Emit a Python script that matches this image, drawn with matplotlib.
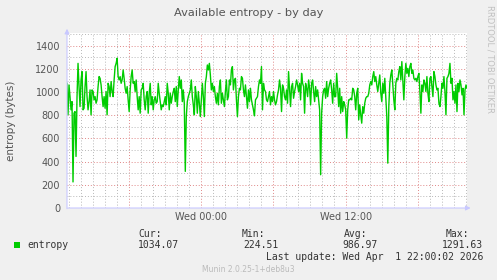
import numpy as np
import matplotlib
matplotlib.use("Agg")
import matplotlib.pyplot as plt
from matplotlib.ticker import MultipleLocator, FixedLocator

# ---------------- data ----------------
title = "Available entropy - by day"
ylabel = "entropy (bytes)"
series_name = "entropy"
t_start, t_end = -11.16, 22.08          # hours relative to Wed 00:00
xtick_pos = [0, 12]
xtick_labels = ["Wed 00:00", "Wed 12:00"]
ytick_vals = [0, 200, 400, 600, 800, 1000, 1200, 1400]

entropy_part1 = [
    1076, 804, 1062, 961, 847, 918, 225, 818, 832, 445, 961, 1248, 1048, 875, 1105, 1177,
    847, 861, 1048, 1177, 961, 847, 918, 1019, 804, 1019, 1005, 933, 961, 904, 933, 1048,
    1134, 1119, 1062, 961, 875, 961, 861, 1005, 804, 1076, 1048, 961, 1091, 1005, 961, 1105,
    1220, 1248, 1292, 1134, 1105, 1134, 1076, 1105, 1191, 1119, 1033, 990, 1048, 933, 832, 1019,
    1134, 1191, 1076, 1091, 1005, 1105, 961, 847, 961, 818, 1019, 1033, 1076, 933, 847, 961,
    1005, 818, 990, 1076, 890, 961, 847, 933, 961, 904, 918, 1076, 990, 918, 847, 890,
    875, 918, 961, 890, 1076, 990, 847, 990, 904, 961, 1005, 1033, 918, 1048, 875, 1019,
    1134, 1033, 1105, 918, 1019, 904, 316, 789, 918, 961, 990, 1019, 1105, 961, 890, 804,
    1048, 961, 818, 1005, 904, 789, 933, 1076, 961, 789, 1076, 1134, 1234, 1191, 1248, 1148,
    1019, 1076, 1005, 1048, 961, 904, 990, 890, 1048, 1105, 904, 990, 933, 875, 1005, 1105,
    933, 961, 1105, 1062, 1191, 1220, 1019, 1105, 1119, 933, 789, 961, 1033, 1019, 1134, 1119,
    1019, 961, 1062, 961, 861, 1019, 918,
]
entropy_part2 = [
    1033, 933, 890, 847, 795, 933, 947, 961, 1048, 1105, 1076, 1220, 847, 1076, 1019, 1005,
    933, 918, 961, 1005, 890, 961, 918, 1005, 933, 890, 918, 976, 1019, 1105, 1033, 832,
    1062, 1033, 961, 933, 1019, 904, 1177, 1033, 875, 1048, 1076, 947, 1005, 1048, 1105, 1062,
    1005, 1076, 933, 1162, 1076, 1048, 818, 1076, 1033, 961, 1105, 1033, 890, 1076, 1105, 1005,
    918, 1048, 961, 1019, 933, 847, 287, 818, 961, 1019, 1033, 947, 1091, 961, 1033, 1076,
    1105, 1019, 904, 1076, 961, 961, 1162, 1033, 875, 1033, 818, 961, 832, 918, 890, 847,
    603, 847, 933, 933, 947, 933, 1033, 1019, 961, 847, 990, 1033, 761, 890, 804, 732,
    875, 818, 904, 947, 961, 961, 990, 1062, 1091, 1062, 1134, 1177, 1091, 1134, 1062, 1005,
    1076, 1148, 990, 918, 1076, 990, 1119, 961, 789, 387, 875, 1076, 1148, 1191, 1062, 933,
    847, 1076, 1119, 1105, 1177, 1220, 1105, 1263, 1105, 933, 1134, 1248, 1162, 1205, 1134, 1220,
    1248, 1162, 1191, 1119, 1105, 1119, 1091, 1134, 1162, 1005, 818, 1062, 1005, 1105, 1076, 1005,
    1134, 990, 918, 1119, 1134, 1048, 961, 1177, 1134, 1062, 1019, 1033, 904, 875, 961, 1076,
    1033, 1134, 1005, 804, 1119, 1134, 1162, 1248, 1076, 1119, 933, 1005, 904, 1062, 832, 1076,
    1005, 1105, 1062, 976, 1033, 804, 1019, 1062, 1034,
]
entropy = np.array(entropy_part1 + entropy_part2, dtype=float)

stat_labels = ["Cur:", "Min:", "Avg:", "Max:"]
stat_values = ["1034.07", "224.51", "986.97", "1291.63"]
last_update = "Last update: Wed Apr  1 22:00:02 2026"
footer = "Munin 2.0.25-1+deb8u3"
side_text = "RRDTOOL / TOBI OETIKER"

# ---------------- figure ----------------
W, H = 497, 280
BG = "#F0F0F0"
fig = plt.figure(figsize=(W / 100, H / 100), dpi=100, facecolor=BG)

def fx(px):
    return px / W

def fy(py):
    return 1 - py / H

L, R, T, B = 67, 467, 33, 208
ax = fig.add_axes([fx(L), fy(B), (R - L) / W, (B - T) / H], facecolor="white")

t = np.linspace(t_start, t_end, len(entropy))
ax.plot(t, entropy, color="#00CC00", lw=1.0, zorder=3)

ax.set_xlim(t_start, t_end)
ax.set_ylim(0, 1510)

# grid
ax.xaxis.set_minor_locator(MultipleLocator(1))
ax.xaxis.set_major_locator(FixedLocator([-6, 0, 6, 12, 18]))
ax.yaxis.set_minor_locator(MultipleLocator(100))
ax.yaxis.set_major_locator(FixedLocator(ytick_vals))
ax.grid(which="minor", color="#B8B8B8", lw=0.7, ls=(0, (1, 2)), zorder=1)
ax.grid(which="major", color="#E08888", lw=0.7, ls=(0, (1, 2)), zorder=2)

ax.set_xticklabels(["", "", "", "", ""])
ax.tick_params(which="both", length=0)
ax.set_yticklabels([str(v) for v in ytick_vals], fontsize=7, color="#555555")
ax.tick_params(axis="y", pad=5)
for xp, lab in zip(xtick_pos, xtick_labels):
    ax.text(xp, -0.025, lab, transform=ax.get_xaxis_transform(), ha="center", va="top",
            fontsize=7, color="#555555")

for s in ax.spines.values():
    s.set_visible(False)

# axis lines with arrows (rrdtool style)
axis_col = "#C8C8FF"
ax.annotate("", xy=(1.016, 0), xytext=(-0.005, 0), xycoords="axes fraction",
            arrowprops=dict(arrowstyle="-|>", color=axis_col, lw=0.8, mutation_scale=7),
            annotation_clip=False, zorder=4)
ax.annotate("", xy=(0, 1.04), xytext=(0, -0.02), xycoords="axes fraction",
            arrowprops=dict(arrowstyle="-|>", color=axis_col, lw=0.8, mutation_scale=7),
            annotation_clip=False, zorder=4)

ax.set_ylabel(ylabel, fontsize=7.5, color="#555555", labelpad=6)
ax.yaxis.set_label_coords(-0.128, 0.5)

# title
fig.text(0.5, fy(13), title, ha="center", va="center", fontsize=8.2, color="#555555")

# side text
fig.text(fx(490), fy(5), side_text, ha="center", va="top", rotation=270,
         fontsize=6, color="#C0C0C0")

# legend
mono = "DejaVu Sans Mono"
fig.patches.append(plt.Rectangle((fx(14), fy(248)), 6 / W, 6 / H, transform=fig.transFigure,
                                 facecolor="#00CC00", edgecolor="none"))
fig.text(fx(27), fy(245), series_name, ha="left", va="center", fontsize=7,
         family=mono, color="#333333")
label_right = [162, 265, 367, 469]
value_right = [179, 279, 378, 483]
for lab, xr in zip(stat_labels, label_right):
    fig.text(fx(xr), fy(234), lab, ha="right", va="center", fontsize=7, family=mono,
             color="#333333")
for val, xr in zip(stat_values, value_right):
    fig.text(fx(xr), fy(245), val, ha="right", va="center", fontsize=7, family=mono,
             color="#333333")
fig.text(fx(483), fy(257), last_update, ha="right", va="center", fontsize=7, family=mono,
         color="#333333")
fig.text(fx(248), fy(269), footer, ha="center", va="center", fontsize=5.5,
         color="#BBBBBB")

fig.savefig("out.png", dpi=100, facecolor=BG)
